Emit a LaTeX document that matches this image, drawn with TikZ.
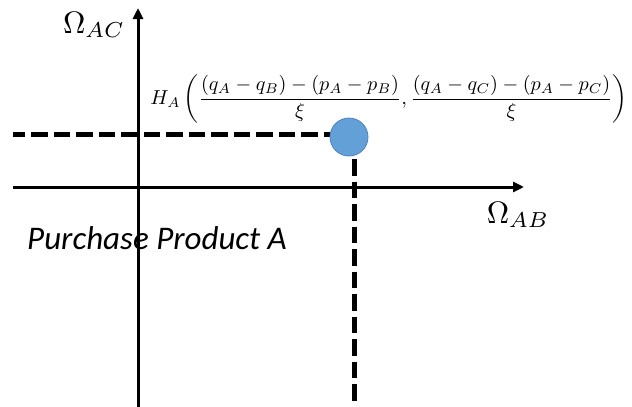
\documentclass[tikz,border=0pt]{standalone}
\usepackage{amsmath}
\usepackage{fontspec}
\newfontfamily\calibri{Carlito}
\usetikzlibrary{arrows.meta}
\begin{document}
\begin{tikzpicture}[x=1pt,y=-1pt,
  axis/.style={line width=3pt,-{Triangle[length=11pt,width=10pt]}},
  dashline/.style={line width=5pt,dash pattern=on 16.5pt off 6pt},
  lab/.style={inner sep=0pt}]
\useasboundingbox (0,0) rectangle (632,407);
\coordinate (hs) at (13,134);
\coordinate (he) at (340,134);
\coordinate (vs) at (354,159);
\coordinate (ve) at (354,407);
\coordinate (xs) at (13,187);
\coordinate (xe) at (524,187);
\coordinate (ys) at (138,407);
\coordinate (ye) at (138,8);
\draw[dashline] (he) -- (hs);
\draw[dashline] (vs) -- (ve);
\draw[axis] (xs) -- (xe);
\draw[axis] (ys) -- (ye);
\node[circle,minimum size=38pt,inner sep=0pt,fill={rgb,255:red,100;green,160;blue,216},draw={rgb,255:red,80;green,130;blue,185},line width=0.8pt] (pt) at (349,137) {};
\node[lab,scale=3.1,anchor=base] (oac) at (94,33) {$\Omega_{AC}$};
\node[lab,scale=3.1,anchor=base] (oab) at (518,223) {$\Omega_{AB}$};
\node[lab,scale=2.02,anchor=center] (ha) at (389,99) {$H_A\left(\dfrac{(q_A-q_B)-(p_A-p_B)}{\xi},\dfrac{(q_A-q_C)-(p_A-p_C)}{\xi}\right)$};
\node[lab,anchor=base west,font=\calibri\itshape\fontsize{33}{38}\selectfont] (pa) at (27,249) {Purchase Product A};
\end{tikzpicture}
\end{document}
